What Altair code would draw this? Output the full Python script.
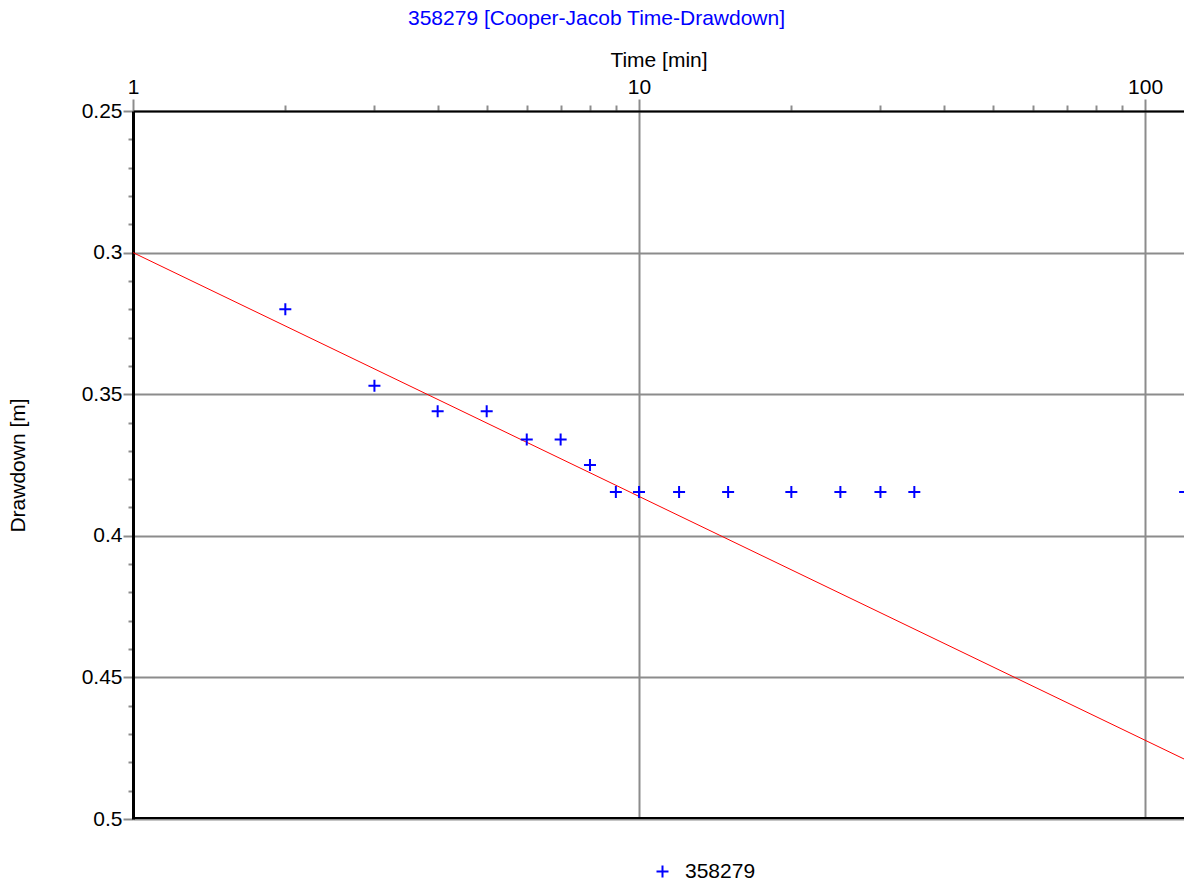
import altair as alt
import pandas as pd

# ---- data ----
times = [2, 3, 4, 5, 6, 7, 8, 9, 10, 12, 15, 20, 25, 30, 35, 120]
drawdown = [0.320, 0.347, 0.356, 0.356, 0.366, 0.366, 0.375, 0.3845,
            0.3845, 0.3845, 0.3845, 0.3845, 0.3845, 0.3845, 0.3845, 0.3845]
fit_times = [1, 120]
fit_drawdown = [0.300, 0.479]
series_name = "358279"

x_ticks = [1, 2, 3, 4, 5, 6, 7, 8, 9, 10, 20, 30, 40, 50, 60, 70, 80, 90, 100]
y_ticks = [round(0.25 + 0.01 * i, 2) for i in range(26)]
x_domain = [1, 119.4]
y_domain = [0.25, 0.5]

PLUS = "M-1,0H1M0,-1V1"
FONT = "Liberation Sans"
GRID = "#8c8c8c"
FS = 21

obs = pd.DataFrame({"time": times, "drawdown": drawdown, "series": series_name})
fit = pd.DataFrame({"time": fit_times, "drawdown": fit_drawdown})
bottom = pd.DataFrame({"drawdown": [y_domain[1]]})

MAJX = "datum.value == 1 || datum.value == 10 || datum.value == 100"
MAJY = "abs(datum.value * 20 - round(datum.value * 20)) < 0.001"

x_axis = alt.Axis(
    orient="top", values=x_ticks, format="d",
    labelExpr=f"({MAJX}) ? datum.label : ''",
    labelFlush=False, labelOverlap=False, labelBound=False,
    labelFont=FONT, labelFontSize=FS, labelColor="black", labelPadding=2,
    tickSize={"condition": {"test": MAJX, "value": 12}, "value": 6},
    tickColor=GRID, tickWidth=2,
    gridOpacity={"condition": {"test": MAJX, "value": 1}, "value": 0},
    gridColor=GRID, gridWidth=2,
    domainColor="black", domainWidth=2,
    title="Time [min]", titleFont=FONT, titleFontSize=FS, titleFontWeight="normal",
    titleColor="black", titleY=-51, titleBaseline="middle",
)

y_axis = alt.Axis(
    orient="left", values=y_ticks, format=".3~f",
    labelExpr=f"({MAJY}) ? datum.label : ''",
    labelFlush=False, labelOverlap=False, labelBound=False,
    labelFont=FONT, labelFontSize=FS, labelColor="black", labelPadding=1,
    tickSize={"condition": {"test": MAJY, "value": 10}, "value": 5},
    tickColor=GRID, tickWidth=2,
    gridOpacity={"condition": {"test": MAJY, "value": 1}, "value": 0},
    gridColor=GRID, gridWidth=2,
    domainColor="black", domainWidth=3,
    title="Drawdown [m]", titleFont=FONT, titleFontSize=FS, titleFontWeight="normal",
    titleColor="black", titleX=-115, titleY=354, titleAngle=270,
    titleAlign="center", titleBaseline="middle",
)

x_scale = alt.Scale(type="log", domain=x_domain)
y_scale = alt.Scale(domain=y_domain, reverse=True)

def xe():
    return alt.X("time:Q", scale=x_scale, axis=x_axis)

def ye():
    return alt.Y("drawdown:Q", scale=y_scale, axis=y_axis)

line = alt.Chart(fit).mark_line(color="#ff0000", strokeWidth=1).encode(x=xe(), y=ye())

points = alt.Chart(obs).mark_point(
    shape=PLUS, filled=False, size=144, strokeWidth=2, opacity=1
).encode(
    x=xe(), y=ye(),
    color=alt.Color(
        "series:N", scale=alt.Scale(range=["#0000ff"]),
        legend=alt.Legend(
            orient="none", legendX=519, legendY=750, title=None, padding=0,
            symbolType=PLUS, symbolSize=144, symbolStrokeWidth=2,
            labelFont=FONT, labelFontSize=FS, labelColor="black", labelOffset=12,
        ),
    ),
)

bottom_rule = alt.Chart(bottom).mark_rule(color="black", strokeWidth=2, yOffset=-1).encode(
    y=ye()
)

chart = alt.layer(line, points, bottom_rule).properties(
    width=1051, height=708,
    autosize=alt.AutoSizeParams(type="none"),
    padding={"left": 133, "top": 111, "right": 0, "bottom": 63},
    title=alt.TitleParams(
        "358279 [Cooper-Jacob Time-Drawdown]", color="#0000ff", font=FONT,
        fontSize=FS, fontWeight="normal", anchor="middle", dx=-62, offset=20,
    ),
).configure_view(strokeWidth=0)

chart.save("out.html", embed_options={"renderer": "svg", "actions": False})
